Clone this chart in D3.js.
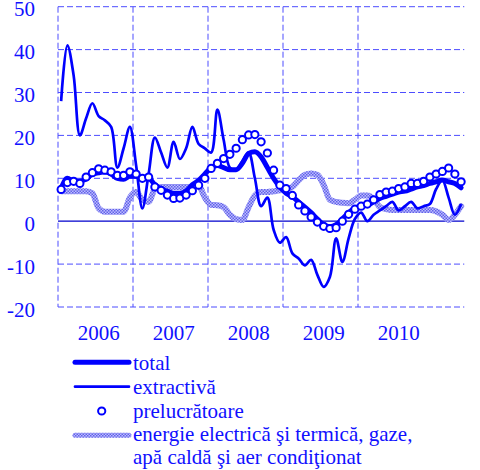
<!DOCTYPE html>
<html><head><meta charset="utf-8">
<script src="https://cdn.jsdelivr.net/npm/d3@7"></script>
<style>
html,body{margin:0;padding:0;background:#fff;}
text{font-family:"Liberation Serif","Times New Roman",serif;fill:#1010ff;}
</style></head><body>
<svg id="chart" width="480" height="470"></svg>
<script>
// ---- data (monthly, Jan 2006 – May 2011) ----
const years = ["2006","2007","2008","2009","2010"];
const yTicks = [-20,-10,0,10,20,30,40,50];
const seriesNames = ["total","extractivă","prelucrătoare","energie electrică şi termică, gaze,","apă caldă şi aer condiţionat"];

const total = [7.7,10,9.3,9.3,9.8,11,11.3,11.5,11,10,9.8,10.5,
  10.5,9.8,10,8.5,7.5,7,6.5,6.5,7,8.5,9.5,11,
  12.5,13,12.5,12,12,13.5,15.8,16.2,15,12.5,10,8,
  6.5,5.7,4.5,3.3,2,0.5,-0.8,-1.3,-0.8,0.5,2,3,
  3.5,3.7,4.5,5.3,5.8,6.3,6.8,7,7.5,8,8.3,8.8,
  9.2,9.6,9.2,8.8,7.8];
const extractiva = [28,41,34,20,24,27.5,24.5,23.5,22,12.5,17,22,
  13,3,11,19.5,16,12.5,18.5,14.5,17,22,18,17,
  16,26,19,12.5,12,14,16,10,3.5,5.5,-2,-5,
  -3.7,-7.5,-8.7,-10.3,-9,-12.5,-15.3,-13,-4,-9.5,-4,0.5,
  2,0,1.5,2.5,3.5,4.5,2.5,3.5,4.5,3,3.5,4,
  7.5,9.5,5.5,1.5,4];
const prelucratoare = [7.4,9,9.3,8.8,10.3,11.3,12.2,11.9,11.5,10.7,10.7,11.5,
  11,10,10.3,8,7.2,6.1,5.3,5.4,6.1,7.1,8.4,10,
  12.3,13.5,14.6,15.6,17,19,20.1,20.2,18.5,15.9,11.9,8.4,
  7.6,6,3.8,2.4,1,-0.2,-1.2,-1.7,-1.5,0,1.6,2.8,
  3.5,4,5,6.2,6.8,7,7.6,8,8.8,8.8,9.3,10.3,
  11,11.6,12.4,11,9.2];
const energie = [7,7,7,7,7,6.5,3,2.2,2.2,2.2,2.2,5.5,
  6.8,5,4.5,7.5,8,8,8,8,8,8,8.2,5.5,
  3.8,3.7,3.3,1.5,0.5,0.3,3.3,6,6.8,6.8,7,7.2,
  7.5,8,9.5,10.8,11.1,10.8,8.5,5,4.5,4.3,4.2,5,
  6,6,5.2,3.3,2.8,2.6,2.6,2.6,2.6,2.6,2.6,2.6,
  2.3,1.5,0.3,1.5,3.5];

// ---- layout ----
const svg = d3.select("#chart");
const L = 58, R = 464.25, T = 6.7, B = 307;
const nMonths = years.length*12 + 5;
const x = d3.scaleLinear().domain([0, nMonths]).range([L, R]);
const y = d3.scaleLinear().domain([-20, 50]).range([B, T]);
const blue = "#0000ff";
const gridCol = "#4d4dff";
const FS = "21px";

// pattern for the energy line
const defs = svg.append("defs");
const pat = defs.append("pattern").attr("id","hatch").attr("patternUnits","userSpaceOnUse")
  .attr("width",3).attr("height",3);
pat.append("rect").attr("width",3).attr("height",3).attr("fill","#bcbcff");
pat.append("rect").attr("width",1.5).attr("height",1.5).attr("fill","#6262e8");
pat.append("rect").attr("x",1.5).attr("y",1.5).attr("width",1.5).attr("height",1.5).attr("fill","#6262e8");

// grid
const g = svg.append("g");
yTicks.filter(v => v !== 0).forEach(v => {
  g.append("line").attr("x1",L).attr("x2",R).attr("y1",y(v)).attr("y2",y(v))
    .attr("stroke",gridCol).attr("stroke-width",1).attr("stroke-dasharray","6,3");
});
d3.range(years.length).forEach(k => {
  g.append("line").attr("x1",x(k*12)).attr("x2",x(k*12)).attr("y1",T).attr("y2",B)
    .attr("stroke",gridCol).attr("stroke-width",1).attr("stroke-dasharray","6,3");
});
g.append("line").attr("x1",L).attr("x2",R).attr("y1",y(0)).attr("y2",y(0))
  .attr("stroke","#0000cc").attr("stroke-width",1.2);

// y axis labels
const yAxis = d3.axisLeft(y).tickValues(yTicks).tickSize(0).tickPadding(23).tickFormat(d => String(d));
const ya = svg.append("g").attr("transform",`translate(${L},2.5)`).call(yAxis);
ya.select(".domain").remove();
ya.selectAll("text").style("font-size",FS).style("font-family","Liberation Serif").attr("fill","#1010ff");

// x axis year labels
const xAxis = d3.axisBottom(x).tickValues(d3.range(years.length).map(k => k*12+6.45))
  .tickSize(0).tickPadding(0).tickFormat((d,i) => years[i]);
const xa = svg.append("g").attr("transform",`translate(0,${B})`).call(xAxis);
xa.select(".domain").remove();
xa.selectAll("text").attr("dy",null).attr("y",33).style("font-size",FS)
  .style("font-family","Liberation Serif").attr("fill","#1010ff");

// lines
const px = (d,i) => x(i+0.5);
const line = d3.line().x(px).y(d => y(d)).curve(d3.curveMonotoneX);
const lineE = d3.line().x(px).y(d => y(d)).curve(d3.curveCatmullRom.alpha(0.5));

svg.append("path").datum(energie).attr("d",line).attr("fill","none")
  .attr("stroke","url(#hatch)").attr("stroke-width",6).attr("stroke-linejoin","round").attr("stroke-linecap","round");
svg.append("path").datum(extractiva).attr("d",lineE).attr("fill","none")
  .attr("stroke",blue).attr("stroke-width",2.7).attr("stroke-linejoin","round");
svg.append("path").datum(total).attr("d",line).attr("fill","none")
  .attr("stroke",blue).attr("stroke-width",5).attr("stroke-linejoin","round").attr("stroke-linecap","round");
svg.append("g").selectAll("circle").data(prelucratoare).join("circle")
  .attr("cx",px).attr("cy",d => y(d)).attr("r",3.6)
  .attr("fill","#fff").attr("stroke",blue).attr("stroke-width",2);

// legend
const lg = svg.append("g");
const lx1 = 75, lx2 = 129, tx = 133;
const rows = [362.3, 386.7, 411, 435.3];
lg.append("line").attr("x1",lx1).attr("x2",lx2).attr("y1",rows[0]).attr("y2",rows[0])
  .attr("stroke",blue).attr("stroke-width",5).attr("stroke-linecap","round");
lg.append("line").attr("x1",lx1).attr("x2",lx2).attr("y1",rows[1]).attr("y2",rows[1])
  .attr("stroke",blue).attr("stroke-width",2.7).attr("stroke-linecap","round");
lg.append("circle").attr("cx",101.7).attr("cy",rows[2]).attr("r",3.6)
  .attr("fill","#fff").attr("stroke",blue).attr("stroke-width",2);
lg.append("line").attr("x1",lx1).attr("x2",lx2).attr("y1",rows[3]).attr("y2",rows[3])
  .attr("stroke","url(#hatch)").attr("stroke-width",5).attr("stroke-linecap","round");
const baselines = [369.5, 393.5, 417.5, 441, 463.5];
seriesNames.forEach((s,i) => {
  lg.append("text").attr("x",tx).attr("y",baselines[i]).style("font-size",FS).text(s);
});
</script>
</body></html>
